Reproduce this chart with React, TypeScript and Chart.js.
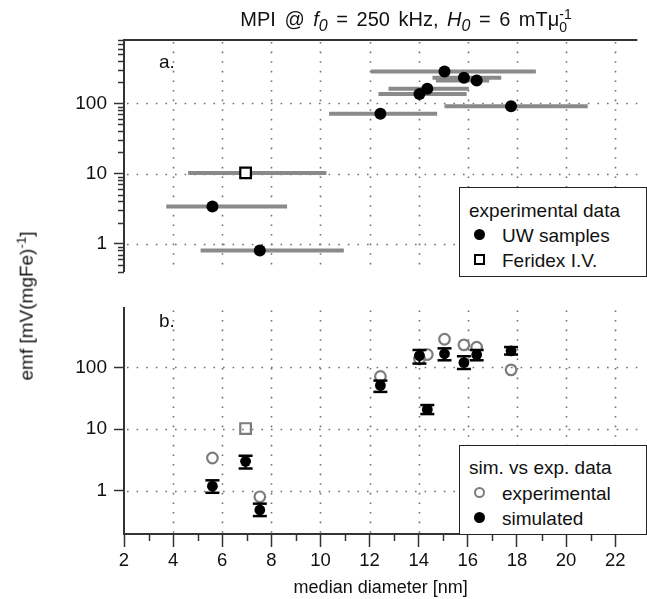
import React, { useEffect, useRef } from "react";
import { Chart, registerables } from "chart.js";

Chart.register(...registerables);

const FONT = "'Liberation Sans', Arial, Helvetica, sans-serif";
const AXIS_COLOR = "#333";
const GRID_COLOR = "#707070";
const BAR_GRAY = "#8a8a8a";
const OPEN_GRAY = "#7d7d7d";
const TEXT_COLOR = "#111";

// ---- Panel a: experimental data (median diameter vs emf, with diameter range) ----
const uwDiameter = [5.6, 7.53, 12.44, 14.03, 14.35, 15.05, 15.84, 16.36, 17.76];
const uwEmf = [3.4, 0.8, 71, 136, 161, 285, 231, 212, 91];
const uwDiameterLow = [3.72, 5.12, 10.35, 12.36, 12.77, 12.05, 14.56, 14.7, 15.05];
const uwDiameterHigh = [8.64, 10.95, 14.75, 15.95, 16.04, 18.77, 17.36, 16.87, 20.88];

const feridexDiameter = [6.95];
const feridexEmf = [10.2];
const feridexDiameterLow = [4.61];
const feridexDiameterHigh = [10.24];

// ---- Panel b: simulated emf with error bars ----
const simDiameter = [5.6, 6.95, 7.53, 12.44, 14.03, 14.35, 15.05, 15.84, 16.36, 17.76];
const simEmf = [1.19, 3.0, 0.49, 51, 155, 20.8, 166, 119, 160, 185];
const simEmfLow = [0.93, 2.3, 0.39, 40, 115, 17.5, 130, 94, 130, 161];
const simEmfHigh = [1.48, 3.7, 0.62, 61, 191, 24.5, 203, 151, 191, 213];

// ---- Axes ----
const xMin = 2;
const xMax = 22.9;
const xMajorTicks = [2, 4, 6, 8, 10, 12, 14, 16, 18, 20, 22];
const xMinorTicks = [3, 5, 7, 9, 11, 13, 15, 17, 19, 21];
const yMajorTicks = [1, 10, 100];
const topYMin = 0.4;
const topYMax = 800;
const topYMinorTicks = [0.4, 0.5, 0.6, 0.7, 0.8, 0.9, 2, 3, 4, 5, 6, 7, 8, 9, 20, 30, 40, 50, 60, 70, 80, 90, 200, 300, 400, 500, 600, 700, 800];
const botYMin = 0.2;
const botYMax = 900;

const toPoints = (xs: number[], ys: number[]) => xs.map((x, i) => ({ x, y: ys[i] }));

function line(ctx: CanvasRenderingContext2D, x1: number, y1: number, x2: number, y2: number) {
  ctx.beginPath();
  ctx.moveTo(x1, y1);
  ctx.lineTo(x2, y2);
  ctx.stroke();
}

function drawDottedGrid(chart: any) {
  const { ctx, chartArea, scales } = chart;
  const { left, right, top, bottom } = chartArea;
  ctx.save();
  ctx.strokeStyle = GRID_COLOR;
  ctx.lineWidth = 1.6;
  ctx.setLineDash([1.6, 8]);
  for (const v of xMajorTicks) {
    if (v <= xMin) continue;
    const px = Math.round(scales.x.getPixelForValue(v)) + 0.5;
    line(ctx, px, top + 2, px, bottom);
  }
  for (const v of yMajorTicks) {
    const py = Math.round(scales.y.getPixelForValue(v)) + 0.5;
    line(ctx, left + 3, py, right, py);
  }
  ctx.restore();
}

const topPanelPlugin = {
  id: "topPanel",
  beforeDatasetsDraw(chart: any) {
    drawDottedGrid(chart);
    const { ctx, scales } = chart;
    ctx.save();
    ctx.strokeStyle = BAR_GRAY;
    ctx.lineWidth = 4;
    ctx.lineCap = "butt";
    uwDiameter.forEach((_, i) => {
      const py = scales.y.getPixelForValue(uwEmf[i]);
      line(ctx, scales.x.getPixelForValue(uwDiameterLow[i]), py, scales.x.getPixelForValue(uwDiameterHigh[i]), py);
    });
    feridexDiameter.forEach((_, i) => {
      const py = scales.y.getPixelForValue(feridexEmf[i]);
      line(ctx, scales.x.getPixelForValue(feridexDiameterLow[i]), py, scales.x.getPixelForValue(feridexDiameterHigh[i]), py);
    });
    ctx.restore();
  },
  afterDraw(chart: any) {
    const { ctx, chartArea, scales } = chart;
    const { left, right, top } = chartArea;
    ctx.save();
    ctx.strokeStyle = AXIS_COLOR;
    ctx.lineWidth = 2;
    line(ctx, left - 1, top, right, top);
    ctx.lineWidth = 1.5;
    for (const v of topYMinorTicks) {
      const py = Math.round(scales.y.getPixelForValue(v)) + 0.5;
      line(ctx, left - 6, py, left, py);
    }
    ctx.restore();
  },
};

const bottomPanelPlugin = {
  id: "bottomPanel",
  beforeDatasetsDraw(chart: any) {
    drawDottedGrid(chart);
  },
  afterDatasetsDraw(chart: any) {
    const { ctx, scales } = chart;
    ctx.save();
    ctx.strokeStyle = "#000";
    simDiameter.forEach((d, i) => {
      const px = scales.x.getPixelForValue(d);
      const yLo = scales.y.getPixelForValue(simEmfLow[i]);
      const yHi = scales.y.getPixelForValue(simEmfHigh[i]);
      ctx.lineWidth = 2;
      line(ctx, px, yLo, px, yHi);
      ctx.lineWidth = 2.5;
      line(ctx, px - 7, yLo, px + 7, yLo);
      line(ctx, px - 7, yHi, px + 7, yHi);
    });
    const { chartArea } = chart;
    ctx.strokeStyle = AXIS_COLOR;
    ctx.lineWidth = 1.5;
    for (const v of xMinorTicks) {
      const px = Math.round(scales.x.getPixelForValue(v)) + 0.5;
      line(ctx, px, chartArea.bottom, px, chartArea.bottom + 7);
    }
    ctx.restore();
  },
};

const yAxis = (min: number, max: number) => ({
  type: "logarithmic" as const,
  min,
  max,
  bounds: "data" as const,
  afterBuildTicks: (scale: any) => {
    scale.ticks = yMajorTicks.map((v) => ({ value: v, major: true }));
  },
  afterFit: (scale: any) => {
    scale.width = 124;
  },
  ticks: {
    callback: (v: any) => String(v),
    color: TEXT_COLOR,
    font: { family: FONT, size: 19 },
    padding: 7,
    autoSkip: false,
  },
  grid: {
    drawOnChartArea: false,
    drawTicks: true,
    tickLength: 10,
    tickColor: AXIS_COLOR,
    tickWidth: 1.5,
  },
  border: { display: true, color: AXIS_COLOR, width: 2 },
});

export default function App() {
  const topRef = useRef<HTMLCanvasElement>(null);
  const botRef = useRef<HTMLCanvasElement>(null);

  useEffect(() => {
    Chart.defaults.font.family = FONT;
    const topChart = new Chart(topRef.current as HTMLCanvasElement, {
      type: "scatter",
      data: {
        datasets: [
          {
            label: "Feridex I.V.",
            data: toPoints(feridexDiameter, feridexEmf),
            pointStyle: "rect",
            pointRadius: 7.5,
            pointBackgroundColor: "#fff",
            pointBorderColor: "#000",
            pointBorderWidth: 2.2,
          },
          {
            label: "UW samples",
            data: toPoints(uwDiameter, uwEmf),
            pointStyle: "circle",
            pointRadius: 6,
            pointBackgroundColor: "#000",
            pointBorderColor: "#000",
            pointBorderWidth: 0,
          },
        ],
      },
      options: {
        animation: false,
        responsive: false,
        events: [],
        layout: { padding: { top: 40, bottom: 13, left: 0, right: 0 } },
        plugins: { legend: { display: false }, tooltip: { enabled: false }, title: { display: false } },
        scales: {
          x: {
            type: "linear",
            min: xMin,
            max: xMax,
            bounds: "data",
            display: false,
          },
          y: yAxis(topYMin, topYMax) as any,
        },
      },
      plugins: [topPanelPlugin],
    });

    const botChart = new Chart(botRef.current as HTMLCanvasElement, {
      type: "scatter",
      data: {
        datasets: [
          {
            label: "simulated",
            data: toPoints(simDiameter, simEmf),
            pointStyle: "circle",
            pointRadius: 5.4,
            pointBackgroundColor: "#000",
            pointBorderColor: "#000",
            pointBorderWidth: 0,
          },
          {
            label: "experimental",
            data: toPoints(uwDiameter, uwEmf),
            pointStyle: "circle",
            pointRadius: 5.3,
            pointBackgroundColor: "rgba(255,255,255,0)",
            pointBorderColor: OPEN_GRAY,
            pointBorderWidth: 2.2,
          },
          {
            label: "experimental Feridex",
            data: toPoints(feridexDiameter, feridexEmf),
            pointStyle: "rect",
            pointRadius: 7.5,
            pointBackgroundColor: "rgba(255,255,255,0)",
            pointBorderColor: OPEN_GRAY,
            pointBorderWidth: 2.2,
          },
        ],
      },
      options: {
        animation: false,
        responsive: false,
        events: [],
        layout: { padding: { top: 8, bottom: 0, left: 0, right: 0 } },
        plugins: { legend: { display: false }, tooltip: { enabled: false }, title: { display: false } },
        scales: {
          x: {
            type: "linear",
            min: xMin,
            max: xMax,
            bounds: "data",
            afterBuildTicks: (scale: any) => {
              scale.ticks = xMajorTicks.map((v) => ({ value: v }));
            },
            afterFit: (scale: any) => {
              scale.height = 65;
            },
            ticks: {
              callback: (v: any) => String(v),
              color: TEXT_COLOR,
              font: { family: FONT, size: 18.5 },
              padding: 3,
              maxRotation: 0,
              autoSkip: false,
            },
            grid: {
              drawOnChartArea: false,
              drawTicks: true,
              tickLength: 13,
              tickColor: AXIS_COLOR,
              tickWidth: 1.5,
            },
            border: { display: true, color: AXIS_COLOR, width: 2 },
            title: {
              display: true,
              text: "median diameter [nm]",
              color: TEXT_COLOR,
              font: { family: FONT, size: 18 },
              padding: { top: 0, bottom: 0 },
            },
          },
          y: yAxis(botYMin, botYMax) as any,
        },
      },
      plugins: [bottomPanelPlugin],
    });

    return () => {
      topChart.destroy();
      botChart.destroy();
    };
  }, []);

  const abs = (left: number, top: number, extra: React.CSSProperties = {}): React.CSSProperties => ({
    position: "absolute",
    left,
    top,
    transform: "translateY(-50%)",
    whiteSpace: "nowrap",
    lineHeight: 1,
    ...extra,
  });

  const legendBox: React.CSSProperties = {
    position: "absolute",
    left: 459,
    width: 188,
    height: 90,
    border: "1.5px solid #222",
    background: "#fff",
    boxSizing: "border-box",
  };
  const legendText: React.CSSProperties = { fontSize: 19 };

  return (
    <div
      style={{
        position: "absolute",
        left: 0,
        top: 0,
        width: 647,
        height: 599,
        overflow: "hidden",
        background: "#fff",
        fontFamily: FONT,
        color: TEXT_COLOR,
      }}
    >
      <canvas ref={topRef} width={647} height={290} style={{ position: "absolute", left: 0, top: 0, display: "block" }} />
      <canvas ref={botRef} width={647} height={309} style={{ position: "absolute", left: 0, top: 290, display: "block" }} />

      {/* Title */}
      <div
        style={{
          position: "absolute",
          left: 406,
          top: 21,
          transform: "translate(-50%, -50%)",
          whiteSpace: "nowrap",
          fontSize: 20,
          wordSpacing: 3,
          lineHeight: 1,
        }}
      >
        MPI @ <i>f</i>
        <sub style={{ fontSize: "0.8em", verticalAlign: "-0.35em" }}>
          <i>0</i>
        </sub>{" "}
        = 250 kHz, <i>H</i>
        <sub style={{ fontSize: "0.8em", verticalAlign: "-0.35em" }}>
          <i>0</i>
        </sub>{" "}
        = 6 mTμ
        <span
          style={{
            display: "inline-block",
            verticalAlign: "-0.45em",
            fontSize: "0.7em",
            lineHeight: 0.95,
            textAlign: "left",
          }}
        >
          <span style={{ display: "block" }}>-1</span>
          <span style={{ display: "block" }}>0</span>
        </span>
      </div>

      {/* Y axis title */}
      <div
        style={{
          position: "absolute",
          left: 25,
          top: 306,
          transform: "translate(-50%, -50%) rotate(-90deg)",
          whiteSpace: "nowrap",
          fontSize: 19,
          lineHeight: 1,
        }}
      >
        emf [mV(mgFe)<sup style={{ fontSize: "0.7em", verticalAlign: "0.5em" }}>-1</sup>]
      </div>

      {/* Panel labels */}
      <div style={abs(159, 61, { fontSize: 19 })}>a.</div>
      <div style={abs(159, 320, { fontSize: 19 })}>b.</div>

      {/* Legend, panel a */}
      <div style={{ ...legendBox, top: 187 }}>
        <div style={abs(9, 22, legendText)}>experimental data</div>
        <div
          style={{
            position: "absolute",
            left: 14,
            top: 41,
            width: 11,
            height: 11,
            borderRadius: "50%",
            background: "#000",
          }}
        />
        <div style={abs(42, 47, legendText)}>UW samples</div>
        <div
          style={{
            position: "absolute",
            left: 14,
            top: 66,
            width: 11,
            height: 11,
            border: "2px solid #000",
            boxSizing: "border-box",
            background: "#fff",
          }}
        />
        <div style={abs(42, 72, legendText)}>Feridex I.V.</div>
      </div>

      {/* Legend, panel b */}
      <div style={{ ...legendBox, top: 445, height: 90 }}>
        <div style={abs(9, 21, legendText)}>sim. vs exp. data</div>
        <div
          style={{
            position: "absolute",
            left: 14,
            top: 41,
            width: 11,
            height: 11,
            borderRadius: "50%",
            border: `2px solid ${OPEN_GRAY}`,
            boxSizing: "border-box",
          }}
        />
        <div style={abs(42, 47, legendText)}>experimental</div>
        <div
          style={{
            position: "absolute",
            left: 14,
            top: 66,
            width: 11,
            height: 11,
            borderRadius: "50%",
            background: "#000",
          }}
        />
        <div style={abs(42, 72, legendText)}>simulated</div>
      </div>
    </div>
  );
}
